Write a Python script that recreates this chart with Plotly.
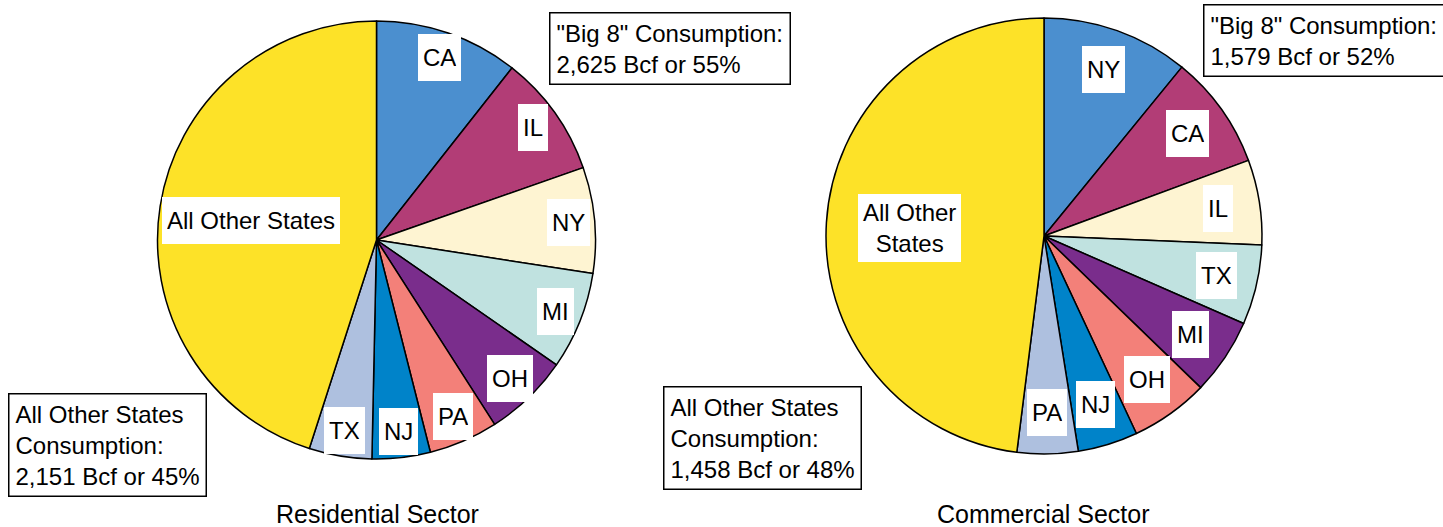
import math
import plotly.graph_objects as go

# --------------------------
# Data (Bcf)
# --------------------------

res_states = ["CA", "IL", "NY", "MI", "OH", "PA", "NJ", "TX", "All Other States"]
res_values = [507, 431, 373, 344, 300, 244, 205, 221, 2151]

com_states = ["NY", "CA", "IL", "TX", "MI", "OH", "NJ", "PA", "All Other<br>States"]
com_values = [331, 257, 191, 180, 172, 176, 135, 137, 1458]

slice_colors = [
    "#4B8FCF", "#B23D76", "#FEF4D2", "#C0E2E0", "#7A2D8C",
    "#F38079", "#0083C9", "#AEC0DF", "#FDE228",
]

res_big8_text = '"Big 8" Consumption:<br>2,625 Bcf or 55%'
res_other_text = "All Other States<br>Consumption:<br>2,151 Bcf or 45%"
com_big8_text = '"Big 8" Consumption:<br>1,579 Bcf or 52%'
com_other_text = "All Other States<br>Consumption:<br>1,458 Bcf or 48%"

W, H = 1443, 527
FONT = "Liberation Sans, Arial, sans-serif"

fig = go.Figure()
annotations = []


def px_x(x):
    return x / W


def px_y(y):
    return 1 - y / H


def add_pie(labels, values, cx, cy, r, label_r, big_r):
    fig.add_trace(
        go.Pie(
            labels=labels,
            values=values,
            sort=False,
            direction="clockwise",
            rotation=0,
            marker=dict(colors=slice_colors, line=dict(color="black", width=1.5)),
            textinfo="none",
            hoverinfo="label+value+percent",
            showlegend=False,
            domain=dict(
                x=[px_x(cx - r), px_x(cx + r)],
                y=[px_y(cy + r), px_y(cy - r)],
            ),
        )
    )

    # slice labels in white boxes, placed on each slice's mid angle
    total = sum(values)
    cum = 0
    for i, (lab, v) in enumerate(zip(labels, values)):
        mid = (cum + v / 2) / total * 2 * math.pi
        cum += v
        rr = big_r if i == len(values) - 1 else label_r
        x = cx + rr * r * math.sin(mid)
        y = cy - rr * r * math.cos(mid)
        ann = dict(
            x=px_x(x), y=px_y(y), xref="paper", yref="paper",
            text=lab, showarrow=False,
            font=dict(family=FONT, size=24, color="black"),
            bgcolor="white", borderpad=5, borderwidth=0,
            xanchor="center", yanchor="middle",
        )
        if "<br>" not in lab:
            ann["height"] = 37
        annotations.append(ann)


add_pie(res_states, res_values, 376.5, 240, 219, 0.88, 0.58)
add_pie(com_states, com_values, 1044, 236, 218, 0.81, 0.62)

# --------------------------
# Text boxes
# --------------------------

for text, x0, y0 in [
    (res_big8_text, 549, 12),
    (res_other_text, 8, 393),
    (com_big8_text, 1203, 4),
    (com_other_text, 663, 386),
]:
    annotations.append(
        dict(
            x=px_x(x0), y=px_y(y0), xref="paper", yref="paper",
            text=text, showarrow=False, align="left",
            xanchor="left", yanchor="top",
            font=dict(family=FONT, size=24, color="black"),
            bgcolor="white", bordercolor="black", borderwidth=1.5, borderpad=6,
        )
    )

# --------------------------
# Sector titles
# --------------------------

for text, x in [("Residential Sector", 377), ("Commercial Sector", 1043)]:
    annotations.append(
        dict(
            x=px_x(x), y=0, xref="paper", yref="paper",
            text=text, showarrow=False,
            xanchor="center", yanchor="bottom", yshift=-3,
            font=dict(family=FONT, size=25, color="black"),
        )
    )

fig.update_layout(
    width=W,
    height=H,
    margin=dict(l=0, r=0, t=0, b=0),
    paper_bgcolor="white",
    plot_bgcolor="white",
    annotations=annotations,
)

fig.write_html(
    "out.html",
    config={"displayModeBar": False},
    post_script="document.body.style.margin='0px';",
)
